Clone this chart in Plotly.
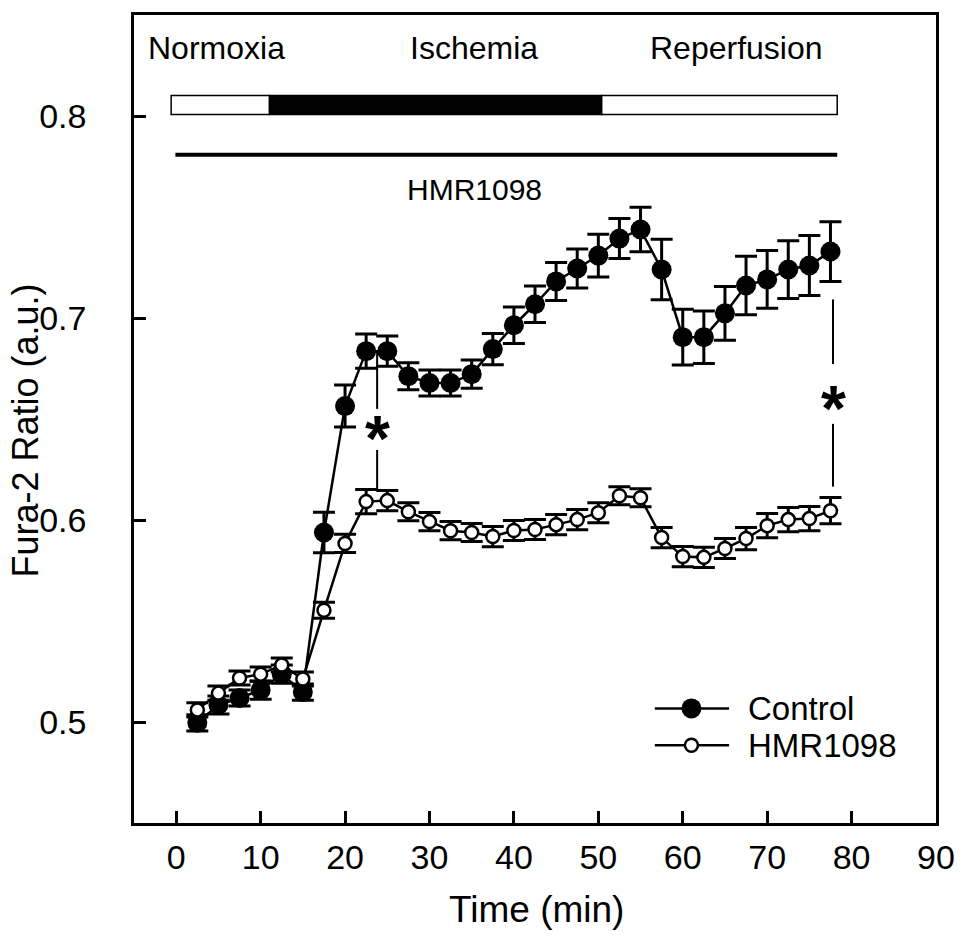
import plotly.graph_objects as go

# ---------------- data ----------------
time_min = [2.5 * k for k in range(1, 32)]

control_mean = [0.4996, 0.5084, 0.5119, 0.5158, 0.5237, 0.5148, 0.5938, 0.6564,
                0.6836, 0.6836, 0.6712, 0.6678, 0.6678, 0.6722, 0.6846, 0.6964,
                0.7068, 0.7181, 0.7245, 0.7309, 0.7393, 0.7438, 0.7240, 0.6905,
                0.6905, 0.7023, 0.7161, 0.7191, 0.7240, 0.7260, 0.7329]
control_sem = [0.004, 0.0045, 0.004, 0.0045, 0.0045, 0.004, 0.010, 0.0104,
               0.0085, 0.0075, 0.0067, 0.0064, 0.0064, 0.007, 0.0077, 0.009,
               0.009, 0.0094, 0.0096, 0.0106, 0.0099, 0.011, 0.015, 0.0138,
               0.013, 0.0133, 0.0145, 0.0143, 0.0143, 0.0148, 0.0148]

hmr_mean = [0.5060, 0.5143, 0.5218, 0.5237, 0.5282, 0.5213, 0.5553, 0.5884,
            0.6091, 0.6096, 0.6041, 0.5992, 0.5947, 0.5938, 0.5918, 0.5948,
            0.5953, 0.5977, 0.6002, 0.6036, 0.6120, 0.6110, 0.5913, 0.5819,
            0.5815, 0.5859, 0.5908, 0.5972, 0.6002, 0.6007, 0.6046]
hmr_sem = [0.0035, 0.0035, 0.0035, 0.0035, 0.0035, 0.0035, 0.004, 0.0045,
           0.006, 0.005, 0.0045, 0.0045, 0.0045, 0.0045, 0.005, 0.005,
           0.005, 0.005, 0.005, 0.005, 0.0044, 0.0045, 0.005, 0.005,
           0.005, 0.005, 0.0055, 0.006, 0.006, 0.006, 0.0065]

series_names = ["Control", "HMR1098"]

# protocol bar (time in min)
phase_labels = ["Normoxia", "Ischemia", "Reperfusion"]
phase_label_x = [4.8, 35.3, 66.4]
phase_start = [-0.6, 11.05, 50.4]
phase_end = [11.05, 50.4, 78.3]
phase_fill = ["white", "black", "white"]
drug_label = "HMR1098"
drug_start, drug_end = -0.1, 78.3

# significance markers: x, upper segment (y0, y1), star y, lower segment (y0, y1)
sig_x = [23.8, 77.8]
sig_upper = [(0.6841, 0.6550), (0.7092, 0.6772)]
sig_star_y = [0.6451, 0.6599]
sig_lower = [(0.6347, 0.6150), (0.6476, 0.6165)]

FONT = "Liberation Sans, Arial, Helvetica, sans-serif"

fig = go.Figure()

fig.add_trace(go.Scatter(
    x=time_min, y=control_mean, name=series_names[0], mode="lines+markers",
    line=dict(color="black", width=2.5),
    marker=dict(symbol="circle", size=20, color="black", line=dict(color="black", width=0)),
    error_y=dict(type="data", array=control_sem, color="black", thickness=3, width=11),
    showlegend=False,
))
fig.add_trace(go.Scatter(
    x=time_min, y=hmr_mean, name=series_names[1], mode="lines+markers",
    line=dict(color="black", width=2.5),
    marker=dict(symbol="circle", size=13, color="white", line=dict(color="black", width=2.5)),
    error_y=dict(type="data", array=hmr_sem, color="black", thickness=3, width=11),
    showlegend=False,
))

shapes = []
annotations = []

# protocol bar
for s, e, f in zip(phase_start, phase_end, phase_fill):
    shapes.append(dict(type="rect", xref="x", yref="y", x0=s, x1=e, y0=0.8008, y1=0.8102,
                       fillcolor=f, line=dict(color="black", width=1.5)))
for lab, lx in zip(phase_labels, phase_label_x):
    annotations.append(dict(x=lx, y=0.8335, xref="x", yref="y", text=lab, showarrow=False,
                            font=dict(family=FONT, size=32, color="black"),
                            xanchor="center", yanchor="middle"))
shapes.append(dict(type="line", xref="x", yref="y", x0=drug_start, x1=drug_end,
                   y0=0.7808, y1=0.7808, line=dict(color="black", width=4)))
annotations.append(dict(x=35.3, y=0.7635, xref="x", yref="y", text=drug_label, showarrow=False,
                        font=dict(family=FONT, size=30, color="black"),
                        xanchor="center", yanchor="middle"))

# significance lines and asterisks
for sx, up, sy, lo in zip(sig_x, sig_upper, sig_star_y, sig_lower):
    shapes.append(dict(type="line", xref="x", yref="y", x0=sx, x1=sx, y0=up[0], y1=up[1],
                       line=dict(color="black", width=2)))
    shapes.append(dict(type="line", xref="x", yref="y", x0=sx, x1=sx, y0=lo[0], y1=lo[1],
                       line=dict(color="black", width=2)))
    annotations.append(dict(x=sx, y=sy, xref="x", yref="y", text="<b>*</b>", showarrow=False,
                            font=dict(family=FONT, size=64, color="black"),
                            xanchor="center", yanchor="middle", yshift=-10))

# manual legend (paper coords)
def px_to_paper_x(px):
    return (px - 134) / 810.0

def px_to_paper_y(py):
    return (823 - py) / 811.0

legend_rows = [(708, 20, "black"), (745, 13, "white")]
for (py, sz, fc), name in zip(legend_rows, series_names):
    yp = px_to_paper_y(py)
    shapes.append(dict(type="line", xref="paper", yref="paper",
                       x0=px_to_paper_x(660), x1=px_to_paper_x(735), y0=yp, y1=yp,
                       line=dict(color="black", width=2.5)))
    r = sz / 2.0
    shapes.append(dict(type="circle", xref="paper", yref="paper",
                       xsizemode="pixel", ysizemode="pixel",
                       xanchor=px_to_paper_x(697), yanchor=yp,
                       x0=-r, x1=r, y0=-r, y1=r,
                       fillcolor=fc, line=dict(color="black", width=2.5 if fc == "white" else 0)))
    annotations.append(dict(x=px_to_paper_x(752), y=yp, xref="paper", yref="paper",
                            text=name, showarrow=False, xanchor="left", yanchor="middle",
                            font=dict(family=FONT, size=33, color="black")))

# axis titles
annotations.append(dict(x=px_to_paper_x(541), y=px_to_paper_y(910), xref="paper", yref="paper",
                        text="Time (min)", showarrow=False, xanchor="center", yanchor="middle",
                        font=dict(family=FONT, size=37, color="black")))
annotations.append(dict(x=px_to_paper_x(24), y=px_to_paper_y(429), xref="paper", yref="paper",
                        text="Fura-2 Ratio (a.u.)", showarrow=False, textangle=-90,
                        xanchor="center", yanchor="middle",
                        font=dict(family=FONT, size=36, color="black")))

fig.update_layout(
    width=967, height=942,
    margin=dict(l=134, r=23, t=12, b=119),
    paper_bgcolor="white", plot_bgcolor="white",
    font=dict(family=FONT, color="black"),
    shapes=shapes, annotations=annotations,
    showlegend=False,
)
fig.update_xaxes(
    range=[-5, 90], tickvals=[0, 10, 20, 30, 40, 50, 60, 70, 80, 90],
    ticks="inside", ticklen=12, tickwidth=2.5, tickcolor="black",
    showline=True, linewidth=2.5, linecolor="black", mirror=True,
    showgrid=False, zeroline=False,
    tickfont=dict(family=FONT, size=34, color="black"), ticklabelstandoff=2,
)
fig.update_yaxes(
    range=[0.45, 0.85], tickvals=[0.5, 0.6, 0.7, 0.8], ticktext=["0.5", "0.6", "0.7", "0.8"],
    ticks="inside", ticklen=12, tickwidth=2.5, tickcolor="black",
    showline=True, linewidth=2.5, linecolor="black", mirror=True,
    showgrid=False, zeroline=False,
    tickfont=dict(family=FONT, size=34, color="black"), ticklabelstandoff=38,
)

fig.write_html("out.html")
